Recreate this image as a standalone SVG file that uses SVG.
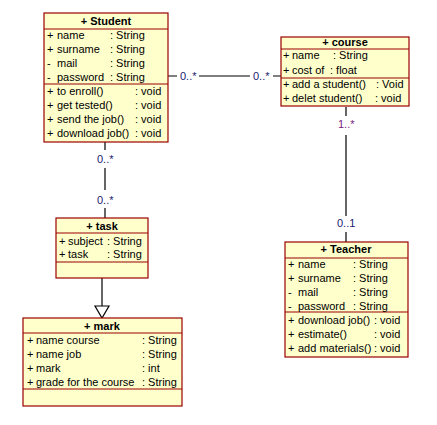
<svg xmlns="http://www.w3.org/2000/svg" width="437" height="425" viewBox="0 0 437 425">
<style>
.box{fill:#FFFFCC;stroke:#990000;stroke-width:1.2}
.sep{stroke:#990000;stroke-width:1.2}
text{font-family:"Liberation Sans",Arial,sans-serif;font-size:11px;fill:#000}
.t{font-weight:bold;text-anchor:middle}
.ln{stroke:#000;stroke-width:1.2;fill:none}
.m{fill:#1a1a70}
.m2{fill:#7a1a80}
</style>
<g id="connectors">
<path class="ln" d="M168,76H177M199,76H250M273,76H281"/>
<path class="ln" d="M105,142V150M105,168V190M105,208V218"/>
<path class="ln" d="M346,107V116M346,135V216M346,232V242"/>
<line class="ln" x1="102" y1="278" x2="102" y2="306"/>
<polygon points="95,306 109,306 102,318" fill="#fff" stroke="#000" stroke-width="1.2"/>
<text class="m" x="180" y="80">0..*</text>
<text class="m" x="253" y="80">0..*</text>
<text class="m" x="97" y="163">0..*</text>
<text class="m" x="97" y="204">0..*</text>
<text class="m2" x="338" y="128">1..*</text>
<text class="m" x="337" y="227">0..1</text>
</g>
<g id="student">
<rect class="box" x="44" y="13" width="124" height="129"/>
<line class="sep" x1="44" y1="29" x2="168" y2="29"/>
<line class="sep" x1="44" y1="84" x2="168" y2="84"/>
<text class="t" x="106" y="25">+ Student</text>
<text y="39"><tspan x="47">+</tspan><tspan x="57">name</tspan><tspan x="110">: String</tspan></text>
<text y="53"><tspan x="47">+</tspan><tspan x="57">surname</tspan><tspan x="110">: String</tspan></text>
<text y="67"><tspan x="47">-</tspan><tspan x="57">mail</tspan><tspan x="110">: String</tspan></text>
<text y="81"><tspan x="47">-</tspan><tspan x="57">password</tspan><tspan x="110">: String</tspan></text>
<text y="95"><tspan x="47">+</tspan><tspan x="57">to enroll()</tspan><tspan x="135">: void</tspan></text>
<text y="109"><tspan x="47">+</tspan><tspan x="57">get tested()</tspan><tspan x="135">: void</tspan></text>
<text y="123"><tspan x="47">+</tspan><tspan x="57">send the job()</tspan><tspan x="135">: void</tspan></text>
<text y="137"><tspan x="47">+</tspan><tspan x="57">download job()</tspan><tspan x="135">: void</tspan></text>
</g>
<g id="course">
<rect class="box" x="281" y="37" width="128" height="69"/>
<line class="sep" x1="281" y1="49" x2="409" y2="49"/>
<line class="sep" x1="281" y1="78" x2="409" y2="78"/>
<text class="t" x="345" y="46">+ course</text>
<text y="59"><tspan x="283">+</tspan><tspan x="292">name</tspan><tspan x="333">: String</tspan></text>
<text y="74"><tspan x="283">+</tspan><tspan x="292">cost of</tspan><tspan x="330">: float</tspan></text>
<text y="88"><tspan x="283">+</tspan><tspan x="292">add a student()</tspan><tspan x="376">: Void</tspan></text>
<text y="102"><tspan x="283">+</tspan><tspan x="292">delet student()</tspan><tspan x="375">: void</tspan></text>
</g>
<g id="teacher">
<rect class="box" x="285" y="242" width="123" height="115"/>
<line class="sep" x1="285" y1="258" x2="408" y2="258"/>
<line class="sep" x1="285" y1="312" x2="408" y2="312"/>
<text class="t" x="346" y="253">+ Teacher</text>
<text y="268"><tspan x="288">+</tspan><tspan x="298">name</tspan><tspan x="353">: String</tspan></text>
<text y="282"><tspan x="288">+</tspan><tspan x="298">surname</tspan><tspan x="353">: String</tspan></text>
<text y="296"><tspan x="288">-</tspan><tspan x="298">mail</tspan><tspan x="353">: String</tspan></text>
<text y="310"><tspan x="288">-</tspan><tspan x="298">password</tspan><tspan x="353">: String</tspan></text>
<text y="324"><tspan x="288">+</tspan><tspan x="298">download job()</tspan><tspan x="374">: void</tspan></text>
<text y="338"><tspan x="288">+</tspan><tspan x="298">estimate()</tspan><tspan x="374">: void</tspan></text>
<text y="352"><tspan x="288">+</tspan><tspan x="298">add materials()</tspan><tspan x="374">: void</tspan></text>
</g>
<g id="task">
<rect class="box" x="56" y="218" width="92" height="60"/>
<line class="sep" x1="56" y1="233" x2="148" y2="233"/>
<line class="sep" x1="56" y1="262" x2="148" y2="262"/>
<text class="t" x="102" y="230">+ task</text>
<text y="245"><tspan x="59">+</tspan><tspan x="68">subject</tspan><tspan x="107">: String</tspan></text>
<text y="258"><tspan x="59">+</tspan><tspan x="68">task</tspan><tspan x="107">: String</tspan></text>
</g>
<g id="mark">
<rect class="box" x="23" y="318" width="159" height="88"/>
<line class="sep" x1="23" y1="333" x2="182" y2="333"/>
<line class="sep" x1="23" y1="389" x2="182" y2="389"/>
<text class="t" x="102" y="330">+ mark</text>
<text y="344"><tspan x="27">+</tspan><tspan x="36">name course</tspan><tspan x="142">: String</tspan></text>
<text y="358"><tspan x="27">+</tspan><tspan x="36">name job</tspan><tspan x="142">: String</tspan></text>
<text y="372"><tspan x="27">+</tspan><tspan x="36">mark</tspan><tspan x="142">: int</tspan></text>
<text y="386"><tspan x="27">+</tspan><tspan x="36">grade for the course</tspan><tspan x="142">: String</tspan></text>
</g>
</svg>
